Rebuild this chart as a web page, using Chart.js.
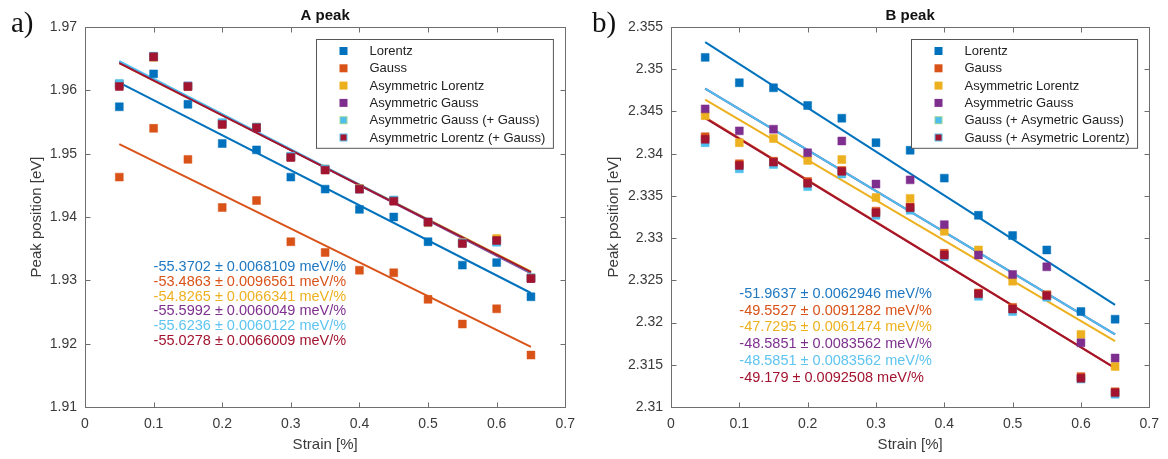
<!DOCTYPE html>
<html>
<head>
<meta charset="utf-8">
<title>A peak / B peak</title>
<script src="https://cdn.jsdelivr.net/npm/chart.js@4.4.1/dist/chart.umd.min.js"></script>
<style>
  html, body { margin: 0; padding: 0; background: #fff; }
  .wrap { position: relative; width: 1168px; height: 459px; }
  canvas { position: absolute; top: 0; }
  #chartA { left: 0; }
  #chartB { left: 584px; }
</style>
</head>
<body>
<div class="wrap">
  <canvas id="chartA" width="584" height="459"></canvas>
  <canvas id="chartB" width="584" height="459"></canvas>
</div>
<script>
// ===== data =====

const strain = [0.05, 0.1, 0.15, 0.2, 0.25, 0.3, 0.35, 0.4, 0.45, 0.5, 0.55, 0.6, 0.65];
const fitX = [0.05, 0.65];

const namesA = ['Lorentz', 'Gauss', 'Asymmetric Lorentz', 'Asymmetric Gauss',
                'Asymmetric Gauss (+ Gauss)', 'Asymmetric Lorentz (+ Gauss)'];
const namesB = ['Lorentz', 'Gauss', 'Asymmetric Lorentz', 'Asymmetric Gauss',
                'Gauss (+ Asymetric Gauss)', 'Gauss (+ Asymetric Lorentz)'];

// panel a) — A peak [eV]
const aLorentz   = [1.9574, 1.9626, 1.9578, 1.9516, 1.9506, 1.9463, 1.9444, 1.9412, 1.9400, 1.9361, 1.9324, 1.9328, 1.9274];
const aGauss     = [1.9463, 1.9540, 1.9491, 1.9415, 1.9426, 1.9361, 1.9344, 1.9316, 1.9312, 1.9270, 1.9231, 1.9255, 1.9182];
const aAsymLor   = [1.9610, 1.9652, 1.9606, 1.9547, 1.9542, 1.9495, 1.9476, 1.9445, 1.9426, 1.9391, 1.9360, 1.9366, 1.9304];
const aAsymGau   = [1.9609, 1.9653, 1.9607, 1.9548, 1.9541, 1.9495, 1.9475, 1.9444, 1.9426, 1.9392, 1.9359, 1.9362, 1.9303];
const aAsymGauG  = [1.9611, 1.9654, 1.9607, 1.9549, 1.9542, 1.9496, 1.9476, 1.9444, 1.9427, 1.9392, 1.9359, 1.9360, 1.9304];
const aAsymLorG  = [1.9606, 1.9653, 1.9606, 1.9546, 1.9541, 1.9494, 1.9474, 1.9444, 1.9425, 1.9392, 1.9358, 1.9363, 1.9303];

// fitted lines, value at strain 0.05 and 0.65
const aFitLorentz  = [1.9612, 1.9280];
const aFitGauss    = [1.9515, 1.9195];
const aFitAsymLor  = [1.9643, 1.9314];
const aFitAsymGau  = [1.9645, 1.9311];
const aFitAsymGauG = [1.9646, 1.9312];
const aFitAsymLorG = [1.9643, 1.9313];

const slopesA = [
  '-55.3702 ± 0.0068109 meV/%',
  '-53.4863 ± 0.0096561 meV/%',
  '-54.8265 ± 0.0066341 meV/%',
  '-55.5992 ± 0.0060049 meV/%',
  '-55.6236 ± 0.0060122 meV/%',
  '-55.0278 ± 0.0066009 meV/%'
];

// panel b) — B peak [eV]
const bLorentz   = [2.3514, 2.3484, 2.3478, 2.3457, 2.3442, 2.3413, 2.3404, 2.3371, 2.3327, 2.3303, 2.3286, 2.3213, 2.3204];
const bGauss     = [2.3420, 2.3388, 2.3391, 2.3367, 2.3380, 2.3332, 2.3337, 2.3282, 2.3235, 2.3218, 2.3233, 2.3136, 2.3118];
const bAsymLor   = [2.3445, 2.3413, 2.3418, 2.3392, 2.3393, 2.3348, 2.3347, 2.3308, 2.3286, 2.3249, 2.3232, 2.3186, 2.3148];
const bAsymGau   = [2.3453, 2.3427, 2.3429, 2.3401, 2.3415, 2.3364, 2.3369, 2.3316, 2.3280, 2.3257, 2.3266, 2.3176, 2.3158];
const bGauAsymG  = [2.3413, 2.3382, 2.3387, 2.3361, 2.3376, 2.3327, 2.3333, 2.3278, 2.3231, 2.3213, 2.3230, 2.3133, 2.3115];
const bGauAsymL  = [2.3417, 2.3386, 2.3390, 2.3365, 2.3379, 2.3330, 2.3336, 2.3280, 2.3234, 2.3216, 2.3232, 2.3134, 2.3117];

const bFitLorentz  = [2.3532, 2.3221];
const bFitGauss    = [2.3443, 2.3146];
const bFitAsymLor  = [2.3464, 2.3178];
const bFitAsymGau  = [2.3477, 2.3186];
const bFitGauAsymG = [2.3477, 2.3186];
const bFitGauAsymL = [2.3442, 2.3146];

const slopesB = [
  '-51.9637 ± 0.0062946 meV/%',
  '-49.5527 ± 0.0091282 meV/%',
  '-47.7295 ± 0.0061474 meV/%',
  '-48.5851 ± 0.0083562 meV/%',
  '-48.5851 ± 0.0083562 meV/%',
  '-49.179 ± 0.0092508 meV/%'
];

// ===== styling =====

const COLORS = ['#0072BD', '#D95319', '#EDB120', '#7E2F8E', '#4DBEEE', '#A2142F'];
const LEGEND_EDGES = ['#0072BD', '#D95319', '#EDB120', '#7E2F8E', '#9fd49a', '#5cc0ea'];
const TEXT_COLORS = ['#1f78c1', '#d95319', '#edb120', '#7e2f8e', '#5ec4f0', '#a2142f'];
const SANS = "'Liberation Sans', Arial, Helvetica, sans-serif";
const AXIS_COLOR = '#6e6e6e';
const LABEL_COLOR = '#3a3a3a';

const toPoints = (xs, ys) => xs.map((x, i) => ({ x, y: ys[i] }));

// custom decorations: box with inward ticks, titles, slope texts, legend
const panelDecor = {
  id: 'panelDecor',
  afterDraw(chart, args, o) {
    const { ctx, chartArea: a, scales } = chart;
    const line = (x1, y1, x2, y2) => { ctx.beginPath(); ctx.moveTo(x1, y1); ctx.lineTo(x2, y2); ctx.stroke(); };
    ctx.save();

    // frame
    ctx.strokeStyle = AXIS_COLOR;
    ctx.lineWidth = 1;
    const L = Math.round(a.left) + 0.5, R = Math.round(a.right) + 0.5;
    const T = Math.round(a.top) + 0.5, B = Math.round(a.bottom) + 0.5;
    ctx.strokeRect(L, T, R - L, B - T);
    scales.x.ticks.forEach(t => {
      const px = Math.round(scales.x.getPixelForValue(t.value)) + 0.5;
      line(px, B, px, B - 5);
      line(px, T, px, T + 5);
    });
    scales.y.ticks.forEach(t => {
      const py = Math.round(scales.y.getPixelForValue(t.value)) + 0.5;
      line(L, py, L + 5, py);
      line(R, py, R - 5, py);
    });

    // panel letter
    ctx.fillStyle = '#111';
    ctx.font = "29px 'Liberation Serif', 'Times New Roman', serif";
    ctx.textAlign = 'left';
    ctx.textBaseline = 'alphabetic';
    ctx.fillText(o.letter, o.letterX, 32);

    // title
    ctx.font = 'bold 15px ' + SANS;
    ctx.textAlign = 'center';
    ctx.textBaseline = 'middle';
    ctx.fillText(o.title, (a.left + a.right) / 2, 16);

    // axis titles
    ctx.fillStyle = LABEL_COLOR;
    ctx.font = '15px ' + SANS;
    ctx.fillText('Strain [%]', (a.left + a.right) / 2, 445);
    ctx.save();
    ctx.translate(o.yTitleX, (a.top + a.bottom) / 2);
    ctx.rotate(-Math.PI / 2);
    ctx.fillText('Peak position [eV]', 0, 0);
    ctx.restore();

    // slope texts
    ctx.font = '14.5px ' + SANS;
    ctx.textAlign = 'left';
    const tx = scales.x.getPixelForValue(o.textAt[0]);
    const ty = scales.y.getPixelForValue(o.textAt[1]);
    o.slopes.forEach((s, i) => {
      ctx.fillStyle = TEXT_COLORS[i];
      ctx.fillText(s, tx, ty + i * o.textStep);
    });

    // legend
    ctx.font = '13px ' + SANS;
    const maxW = Math.max(...o.names.map(n => ctx.measureText(n).width));
    const w = 53 + maxW + 8, rowH = 17.3, h = rowH * 6 + 5;
    const bx = Math.round(a.right - 12 - w) + 0.5, by = Math.round(a.top + 12) + 0.5;
    ctx.fillStyle = '#fff';
    ctx.fillRect(bx, by, w, h);
    ctx.strokeStyle = '#555';
    ctx.strokeRect(bx, by, w, h);
    o.names.forEach((n, i) => {
      const cy = by + 11.5 + i * rowH;
      ctx.fillStyle = LEGEND_EDGES[i];
      ctx.fillRect(bx + 23, cy - 4, 8, 8);
      ctx.fillStyle = COLORS[i];
      ctx.fillRect(bx + 24, cy - 3, 6, 6);
      ctx.fillStyle = '#222';
      ctx.fillText(n, bx + 53, cy + 0.5);
    });

    ctx.restore();
  }
};

function makePanel(canvasId, p) {
  const datasets = [];
  p.series.forEach((ys, i) => {
    datasets.push({
      label: p.names[i],
      data: toPoints(strain, ys),
      showLine: false,
      pointStyle: 'rect',
      pointRadius: 5.6,
      pointBackgroundColor: COLORS[i],
      pointBorderColor: COLORS[i],
      pointBorderWidth: 0.5,
      order: 20 - i
    });
  });
  p.fits.forEach((ys, i) => {
    datasets.push({
      label: p.names[i] + ' fit',
      data: toPoints(fitX, ys),
      showLine: true,
      borderColor: COLORS[i],
      borderWidth: 2,
      pointRadius: 0,
      order: 40 - i
    });
  });

  return new Chart(document.getElementById(canvasId), {
    type: 'scatter',
    data: { datasets },
    options: {
      responsive: false,
      devicePixelRatio: 1,
      animation: false,
      layout: { padding: { top: 27, right: p.padRight, left: 0, bottom: 0 } },
      plugins: {
        legend: { display: false },
        tooltip: { enabled: false },
        panelDecor: p.decor
      },
      scales: {
        x: {
          type: 'linear',
          min: 0, max: 0.7,
          grid: { display: false, drawTicks: false },
          border: { display: false },
          ticks: {
            stepSize: 0.1,
            padding: 9,
            color: LABEL_COLOR,
            font: { family: SANS, size: 14 },
            callback: v => String(+v.toFixed(1))
          },
          afterFit: s => { s.height = 52; }
        },
        y: {
          type: 'linear',
          min: p.yMin, max: p.yMax,
          grid: { display: false, drawTicks: false },
          border: { display: false },
          ticks: {
            stepSize: p.yStep,
            padding: 8,
            color: LABEL_COLOR,
            font: { family: SANS, size: 14 },
            callback: v => String(+v.toFixed(3))
          },
          afterFit: s => { s.width = p.yWidth; }
        }
      }
    },
    plugins: [panelDecor]
  });
}

makePanel('chartA', {
  names: namesA,
  series: [aLorentz, aGauss, aAsymLor, aAsymGau, aAsymGauG, aAsymLorG],
  fits: [aFitLorentz, aFitGauss, aFitAsymLor, aFitAsymGau, aFitAsymGauG, aFitAsymLorG],
  yMin: 1.91, yMax: 1.97, yStep: 0.01,
  yWidth: 85, padRight: 16,
  decor: { letter: 'a)', letterX: 11, title: 'A peak', yTitleX: 37,
           names: namesA, slopes: slopesA, textAt: [0.1, 1.9321], textStep: 14.8 }
});

makePanel('chartB', {
  names: namesB,
  series: [bLorentz, bGauss, bAsymLor, bAsymGau, bGauAsymG, bGauAsymL],
  fits: [bFitLorentz, bFitGauss, bFitAsymLor, bFitAsymGau, bFitGauAsymG, bFitGauAsymL],
  yMin: 2.31, yMax: 2.355, yStep: 0.005,
  yWidth: 87, padRight: 13,
  decor: { letter: 'b)', letterX: 8, title: 'B peak', yTitleX: 30,
           names: namesB, slopes: slopesB, textAt: [0.1, 2.3234], textStep: 16.8 }
});
</script>
</body>
</html>
